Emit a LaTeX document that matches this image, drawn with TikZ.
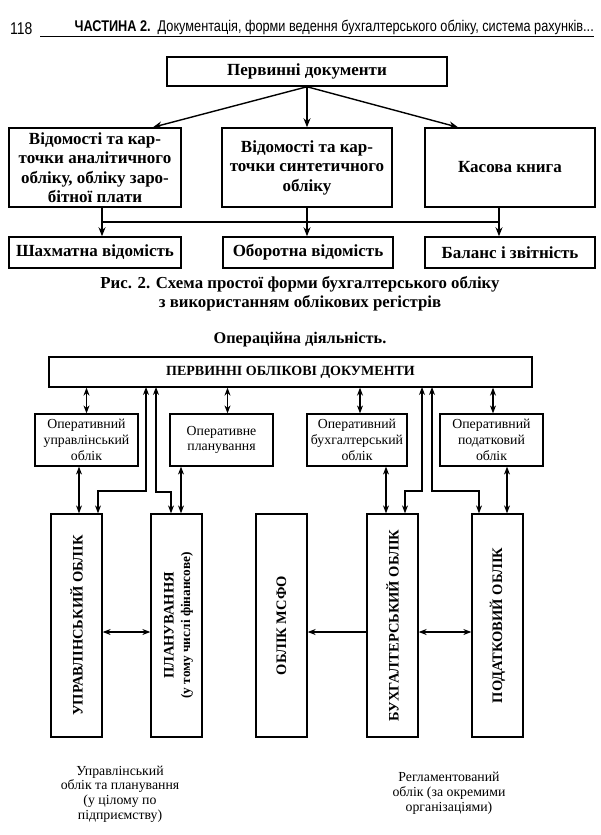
\documentclass[tikz,border=0pt]{standalone}
\usepackage{fontspec}
\setmainfont{Liberation Serif}
\newfontfamily\hdrfont[FakeStretch=0.82]{Liberation Sans}
\usetikzlibrary{arrows.meta}
\tikzset{
  boxa/.style={draw, line width=1.5pt, font=\bfseries\fontsize{17}{19.5}\selectfont, align=center, inner sep=0pt},
  arra/.style={-{Stealth[length=9pt,width=7pt]}, line width=1.4pt},
  boxb/.style={draw, line width=1.2pt, font=\fontsize{13.8}{15.8}\selectfont, align=center, inner sep=0pt, minimum width=103pt, minimum height=52pt},
  bigbox/.style={draw, line width=1.3pt, minimum width=51pt, minimum height=223pt, inner sep=0pt},
  vtext/.style={rotate=90, font=\bfseries\fontsize{14.5}{16.5}\selectfont, align=center, inner sep=0pt},
  dbl/.style={{Stealth[length=8pt,width=6pt]}-{Stealth[length=8pt,width=6pt]}, line width=1.1pt},
  sgl/.style={-{Stealth[length=8pt,width=6pt]}, line width=1.1pt},
  note/.style={font=\fontsize{13.8}{14.8}\selectfont, align=center, inner sep=0pt}
}
\begin{document}
\begin{tikzpicture}[x=1pt,y=-1pt]
\useasboundingbox[fill=white] (0,0) rectangle (600,835);

% header
\node[font=\hdrfont\fontsize{17}{18}\selectfont, anchor=base west, inner sep=0pt] (pg) at (10,34) {118};
\node[font=\hdrfont\fontsize{15.5}{16}\selectfont, anchor=base east, inner sep=0pt] (hdr) at (594,31) {\textbf{ЧАСТИНА 2.}\ \ Документація, форми ведення бухгалтерського обліку, система рахунків...};
\coordinate (hl) at (40,36);
\coordinate (hr) at (594,36);
\draw[line width=0.9pt] (hl) -- (hr);

% ---------- first diagram ----------
\node[boxa, minimum width=280pt, minimum height=29pt] (top) at (307,71.5) {Первинні документи};
\node[boxa, minimum width=172pt, minimum height=79pt] (b1) at (95,167.5) {Відомості та кар-\\точки аналітичного\\обліку, обліку заро-\\бітної плати};
\node[boxa, minimum width=170pt, minimum height=79pt] (b2) at (307,167.5) {Відомості та кар-\\точки синтетичного\\обліку};
\node[boxa, minimum width=170pt, minimum height=79pt] (b3) at (510,167.5) {Касова книга};
\node[boxa, minimum width=172pt, minimum height=31pt] (c1) at (95,252.5) {Шахматна відомість};
\node[boxa, minimum width=170pt, minimum height=31pt] (c2) at (308,252.5) {Оборотна відомість};
\node[boxa, minimum width=170pt, minimum height=31pt] (c3) at (510,252.5) {Баланс і звітність};

\draw[arra] (top.south) -- ([xshift=58pt]b1.north);
\draw[arra] (top.south) -- (b2.north);
\draw[arra] (top.south) -- ([xshift=-52pt]b3.north);

\coordinate (j1) at (102,222);
\coordinate (j3) at (499,222);
\draw[line width=1.4pt] (j1) -- (j3);
\draw[arra] ([xshift=7pt]b1.south) -- ([xshift=7pt]c1.north);
\draw[arra] (b2.south) -- ([xshift=-1pt]c2.north);
\draw[arra] ([xshift=-11pt]b3.south) -- ([xshift=-11pt]c3.north);

% caption
\node[font=\bfseries\fontsize{16.8}{19}\selectfont, align=center, inner sep=0pt] (cap) at (300,294) {Рис. 2. Схема простої форми бухгалтерського обліку\\з використанням облікових регістрів};
\node[font=\bfseries\fontsize{16.3}{19}\selectfont, inner sep=0pt] (op) at (300,340) {Операційна діяльність.};

% ---------- second diagram ----------
\node[draw, line width=1.3pt, minimum width=483pt, minimum height=30pt, inner sep=0pt, font=\bfseries\fontsize{14}{15}\selectfont] (P) at (290.5,372) {ПЕРВИННІ ОБЛІКОВІ ДОКУМЕНТИ};

\node[boxb] (o1) at (86.5,440) {Оперативний\\управлінський\\облік};
\node[boxb] (o2) at (221.5,440) {Оперативне\\планування};
\node[boxb, minimum width=100pt] (o3) at (357,440) {Оперативний\\бухгалтерський\\облік};
\node[boxb] (o4) at (491.5,440) {Оперативний\\податковий\\облік};

\draw[dbl] (P.south -| o1) -- (o1.north);
\draw[dbl] ([xshift=6pt]o2.north |- P.south) -- ([xshift=6pt]o2.north);
\draw[dbl] ([xshift=3pt]o3.north |- P.south) -- ([xshift=3pt]o3.north);
\draw[dbl] ([xshift=1.5pt]o4.north |- P.south) -- ([xshift=1.5pt]o4.north);

\node[bigbox] (B1) at (76.5,625.5) {};
\node[bigbox] (B2) at (176.5,625.5) {};
\node[bigbox] (B3) at (281.5,625.5) {};
\node[bigbox] (B4) at (392.5,625.5) {};
\node[bigbox] (B5) at (497.5,625.5) {};

\node[vtext] (t1) at (B1.center) {УПРАВЛІНСЬКИЙ ОБЛІК};
\node[vtext] (t2) at ([xshift=2pt]B2.center) {ПЛАНУВАННЯ\\{\fontsize{13.3}{15}\selectfont (у тому числі фінансове)}};
\node[vtext] (t3) at (B3.center) {ОБЛІК МСФО};
\node[vtext] (t4) at (B4.center) {БУХГАЛТЕРСЬКИЙ ОБЛІК};
\node[vtext] (t5) at (B5.center) {ПОДАТКОВИЙ ОБЛІК};

% vertical double arrows op boxes -> big boxes
\draw[dbl] ([xshift=-7.5pt]o1.south) -- ([xshift=2.5pt]B1.north);
\draw[dbl] ([xshift=-40.5pt]o2.south) -- ([xshift=4.5pt]B2.north);
\draw[dbl] ([xshift=29pt]o3.south) -- ([xshift=-6.5pt]B4.north);
\draw[dbl] ([xshift=15.5pt]o4.south) -- ([xshift=9.5pt]B5.north);

% elbow connectors
\draw[dbl] (146,387) |- (98,491) -- ([xshift=21.5pt]B1.north);
\draw[dbl] (156,387) |- (171,492) -- ([xshift=-5.5pt]B2.north);
\draw[dbl] (422,387) |- (405,491) -- ([xshift=12.5pt]B4.north);
\draw[dbl] (432,387) |- (479,491) -- ([xshift=-18.5pt]B5.north);

% horizontal arrows
\draw[dbl] ([yshift=-6.5pt]B1.east) -- ([yshift=-6.5pt]B2.west);
\draw[sgl] ([yshift=-6.5pt]B4.west) -- ([yshift=-6.5pt]B3.east);
\draw[dbl] ([yshift=-6.5pt]B4.east) -- ([yshift=-6.5pt]B5.west);

% notes
\node[note] (n1) at (120,794) {Управлінський\\облік та планування\\(у цілому по\\підприємству)};
\node[note] (n2) at (449,793) {Регламентований\\облік (за окремими\\організаціями)};
\end{tikzpicture}
\end{document}
